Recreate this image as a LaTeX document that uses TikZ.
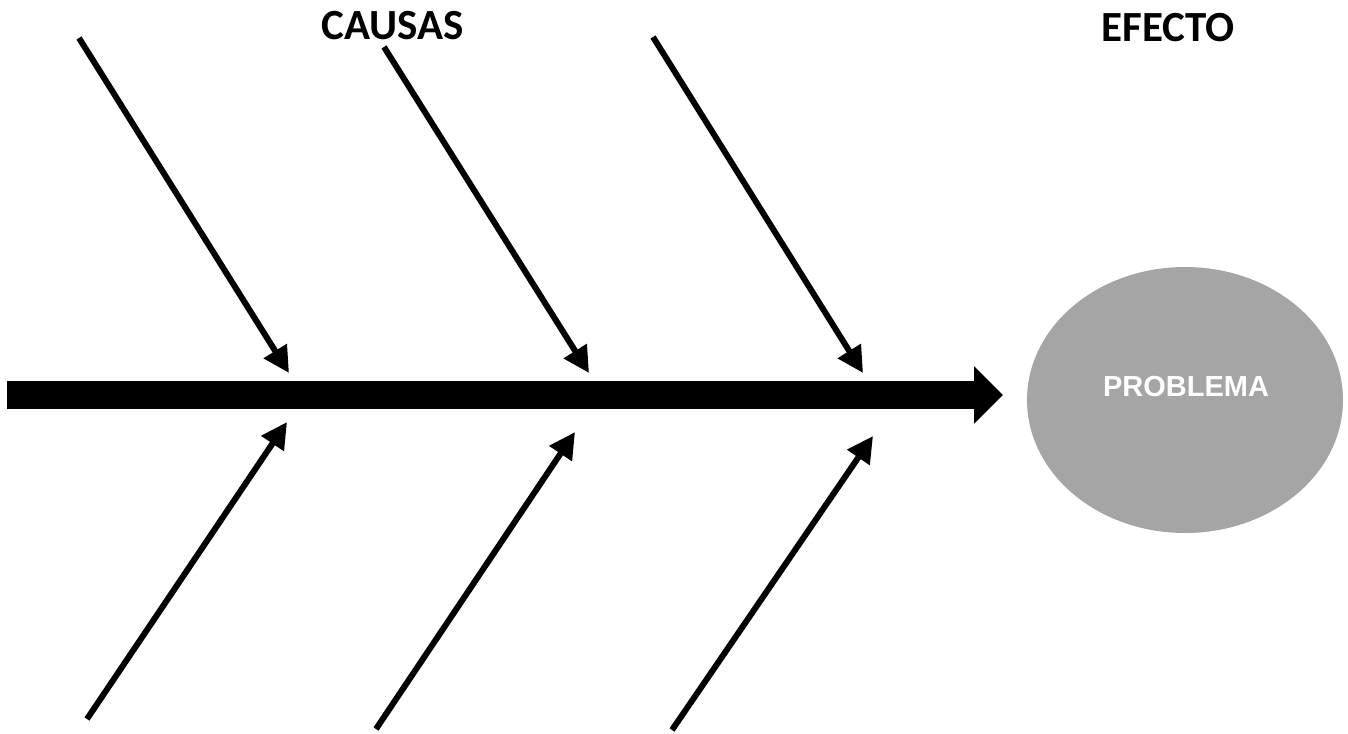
\documentclass[tikz,border=0pt]{standalone}
\usepackage{fontspec}
\setmainfont{Carlito}
\newfontfamily\arialfont{Liberation Sans}
\usetikzlibrary{arrows.meta,shapes.geometric}
\definecolor{probgray}{RGB}{165,165,165}
\begin{document}
\begin{tikzpicture}[x=1pt,y=-1pt,
  spine/.style={line width=28pt,-{Triangle[length=29pt,width=56pt]}},
  bone/.style={line width=6pt,-{Triangle[length=26pt,width=26pt]}},
  heading/.style={font=\bfseries\fontsize{43}{43}\selectfont,inner sep=0pt},
  effect/.style={ellipse,fill=probgray,minimum width=316pt,minimum height=266pt,inner sep=0pt},
  efftext/.style={font=\arialfont\bfseries\fontsize{29}{29}\selectfont,text=white,inner sep=0pt}]
\useasboundingbox (0,0) rectangle (1348,733);
% headings
\node[heading] (causas) at (393,26) {CAUSAS};
\node[heading] (efecto) at (1168,28) {EFECTO};
% effect
\node[effect] (prob) at (1185,400) {};
\node[efftext] (probt) at (1186,387) {PROBLEMA};
% spine
\coordinate (s0) at (7,395);
\coordinate (s1) at (1003,395);
\draw[spine] (s0) -- (s1);
% bones
\coordinate (a1) at (79,38);   \coordinate (t1) at (289,373);
\coordinate (a2) at (384,47);  \coordinate (t2) at (589,373);
\coordinate (a3) at (653,37);  \coordinate (t3) at (863,373);
\coordinate (a4) at (87,719);  \coordinate (t4) at (287,422);
\coordinate (a5) at (376,729); \coordinate (t5) at (575,432);
\coordinate (a6) at (672,730); \coordinate (t6) at (873,436);
\foreach \i in {1,...,6} \draw[bone] (a\i) -- (t\i);
\end{tikzpicture}
\end{document}
